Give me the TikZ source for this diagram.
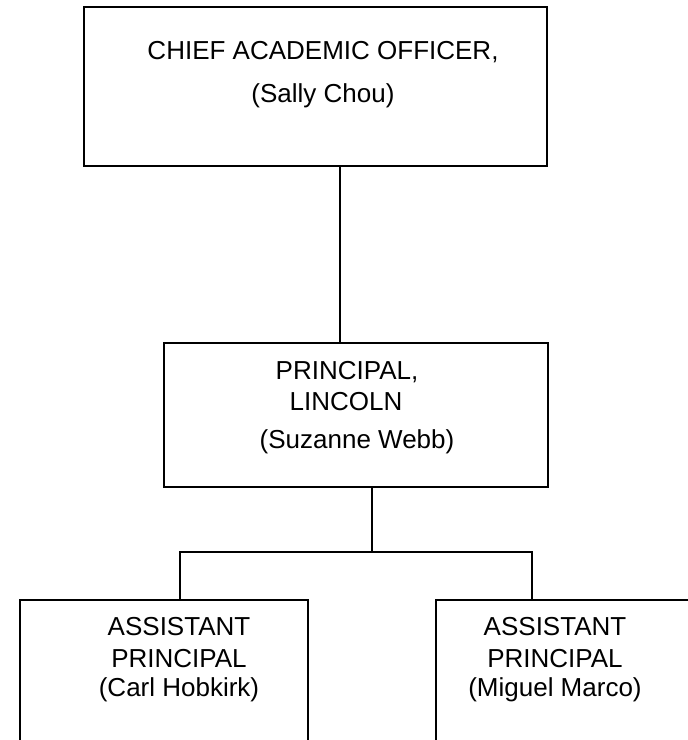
\documentclass[tikz,border=0pt]{standalone}
\usepackage{fontspec}
\setmainfont{Liberation Sans}
\begin{document}
\begin{tikzpicture}[x=1pt,y=-1pt,
  box/.style={draw=black,line width=1.8pt,rectangle,inner sep=0pt},
  conn/.style={draw=black,line width=1.8pt},
  lbl/.style={anchor=base,inner sep=0pt,font=\fontsize{26}{31}\selectfont}]
\useasboundingbox (0,0) rectangle (688,740);
\clip (0,0) rectangle (688,740);
% boxes
\node[box,minimum width=463pt,minimum height=159pt] (cao) at (315.5,86.5) {};
\node[box,minimum width=384pt,minimum height=144pt] (pr) at (356,415) {};
\node[box,minimum width=288pt,minimum height=200pt] (apl) at (164,700) {};
\node[box,minimum width=284pt,minimum height=200pt] (apr) at (578,700) {};
% texts
\node[lbl] (t1) at (323,59) {CHIEF ACADEMIC OFFICER,};
\node[lbl] (t2) at (323,102) {(Sally Chou)};
\node[lbl] (t3) at (347,379) {PRINCIPAL,};
\node[lbl] (t4) at (346,410) {LINCOLN};
\node[lbl] (t5) at (357,448) {(Suzanne Webb)};
\node[lbl] (t6) at (179,635) {ASSISTANT};
\node[lbl] (t7) at (179,667) {PRINCIPAL};
\node[lbl] (t8) at (179,696) {(Carl Hobkirk)};
\node[lbl] (t9) at (555,635) {ASSISTANT};
\node[lbl] (t10) at (555,667) {PRINCIPAL};
\node[lbl] (t11) at (555,696) {(Miguel Marco)};
% connectors
\coordinate (c1) at (340,0);
\coordinate (c2) at (372,552);
\coordinate (cl) at (180,552);
\coordinate (cr) at (532,552);
\draw[conn] (c1 |- cao.south) -- (c1 |- pr.north);
\draw[conn] (c2 |- pr.south) -- (c2);
\draw[conn] (cl |- apl.north) -- (cl) -- (cr) -- (cr |- apr.north);
\end{tikzpicture}
\end{document}
